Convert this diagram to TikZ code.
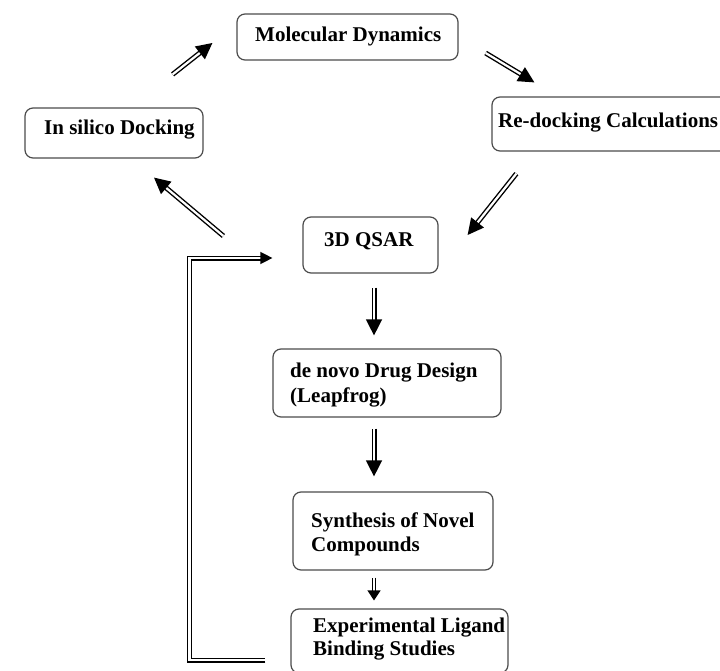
\documentclass[tikz,border=0pt]{standalone}
\usepackage{fontspec}
\setmainfont{Liberation Serif}
\usetikzlibrary{arrows.meta,calc}
\begin{document}
\begin{tikzpicture}[x=1pt,y=-1pt,
  box/.style={draw=black!70,line width=1.2pt,rounded corners=8pt,inner sep=0pt},
  txt/.style={anchor=base west,inner sep=0pt,font=\fontsize{21}{25}\selectfont\bfseries},
  dbl/.style={double,double distance=2.2pt,line width=1.4pt,-{Triangle[length=16pt,width=16pt]}},
  dbls/.style={double,double distance=1.6pt,line width=1.2pt,-{Triangle[length=10pt,width=13pt]}}]
\useasboundingbox (0,0) rectangle (720,671);
\clip (0,0) rectangle (720,671);
% boxes
\node[box,minimum width=221pt,minimum height=46pt] (md) at (347.5,37) {};
\node[box,minimum width=178pt,minimum height=50pt] (isd) at (114,133) {};
\node[box,minimum width=243pt,minimum height=54pt] (rdc) at (613.5,124) {};
\node[box,minimum width=135pt,minimum height=56pt] (qsar) at (370.5,245) {};
\node[box,minimum width=228pt,minimum height=68pt] (dnv) at (387,383) {};
\node[box,minimum width=200pt,minimum height=78pt] (syn) at (393,531) {};
\node[box,minimum width=217pt,minimum height=64pt] (exp) at (399.5,641) {};
% texts
\node[txt] (tmd) at (255,42) {Molecular Dynamics};
\node[txt] (tisd) at (44,135) {In silico Docking};
\node[txt] (trdc) at (498,128) {Re-docking Calculations};
\node[txt] (tqsar) at (324,247) {3D QSAR};
\node[txt] (tdnv1) at (290,377) {de novo Drug Design};
\node[txt] (tdnv2) at (290,402) {(Leapfrog)};
\node[txt] (tsyn1) at (311,527) {Synthesis of Novel};
\node[txt] (tsyn2) at (311,551) {Compounds};
\node[txt] (texp1) at (313,632) {Experimental Ligand};
\node[txt] (texp2) at (313,655) {Binding Studies};
% connectors
\draw[dbl] ($(isd.north east)+(-31,-33)$) -- ($(md.west)+(-24,6)$);
\draw[dbl] ($(md.east)+(27,16)$) -- ($(rdc.north west)+(43,-14)$);
\draw[dbl] ($(rdc.south west)+(25,22)$) -- ($(qsar.east)+(29,-10)$);
\draw[dbl] ($(qsar.west)+(-79,-9)$) -- ($(isd.south)+(40,19)$);
\draw[dbl] ($(qsar.south)+(3.5,14)$) -- ($(dnv.north)+(-13,-13)$);
\draw[dbl] ($(dnv.south)+(-13,11)$) -- ($(syn.north)+(-19,-15)$);
\draw[dbls] ($(syn.south)+(-19,7)$) -- ($(exp.north)+(-25.5,-8)$);
\draw[double,double distance=2.2pt,line width=1.4pt,-{Triangle[length=12pt,width=12pt]}]
  ($(exp.west)+(-25,19)$) -- ++(-76,0) |- ($(qsar.west)+(-30,13)$);
\end{tikzpicture}
\end{document}
